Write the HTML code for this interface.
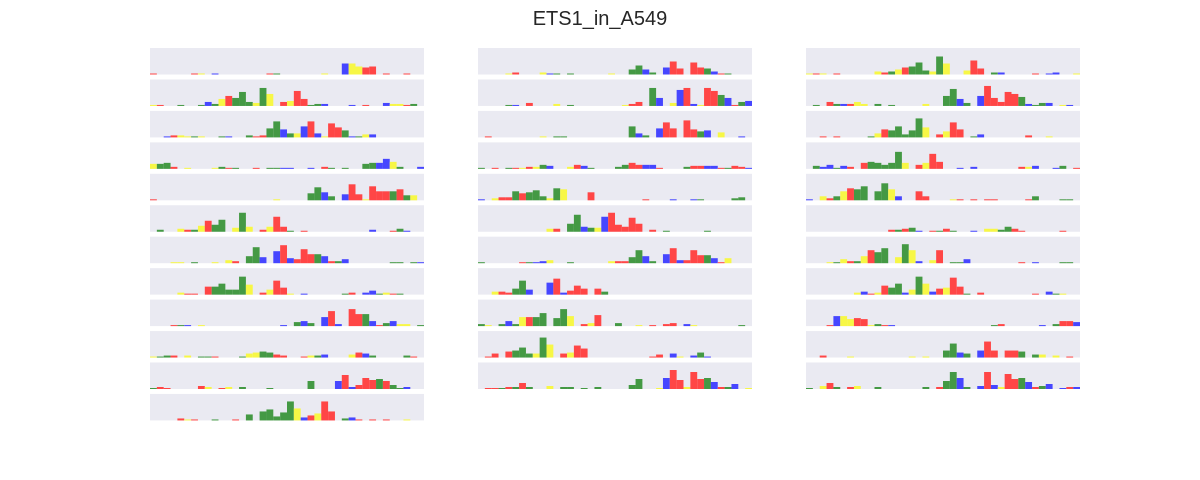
<!DOCTYPE html>
<html><head><meta charset="utf-8"><style>
html,body{margin:0;padding:0;background:#fff;}
svg{display:block;}
</style></head><body>
<svg id="chart" width="1200" height="480">
<text x="600" y="25" text-anchor="middle" font-family="Liberation Sans, sans-serif" font-size="20" fill="#262626">ETS1_in_A549</text>
</svg>
<script>
const col1 = [
"0T1 6T1 7G1 9C1 17T1 18A1 25G1 28C11 29G11 30G8 31T7 32T8 34T1 37T1",
"0G1 1T1 4A1 7A1 8C4 9A2 10G7 11T10 12A8 13A14 14A4 15G3 16A18 17G12 19T4 20G5 21T15 22T7 23A1 24A2 25C2 29C1 31T1 34C3 35G2 36G2 37T1 38A2",
"2C1 3T2 4G2 5G1 6A1 7G1 10A1 11C1 14A2 15T1 16T2 17A9 18A16 19C8 20A4 21G4 22C11 23T16 24C4 25G1 26T14 27T10 28A7 29C1 30A1 31G3 32C3",
"0G5 1A5 2A6 3T2 5G1 9G1 10A2 11T1 12A1 15T1 17A1 18A1 19C1 20C1 23C1 25T2 26A1 28A1 31A5 32A6 33C6 34C10 35G7 36A2 39C2",
"0T1 18G1 23A7 24A13 25C8 26A4 28C6 29T16 30T6 31G1 32T14 33T9 34T9 35A9 36T11 37A5 38G5",
"1A2 4G3 5T2 6A2 7G6 8T11 9A7 10A12 12G4 13A19 14G5 16T2 17G5 18T15 19T5 20A1 22T1 32C2 35T1 36A3 37C1",
"3G1 4G1 6A1 9G1 11G3 12T2 14A7 15A16 16C6 18C12 19T18 20C5 21T4 22T14 23T9 24A9 25C7 26T2 27A2 28C4 35A1 36A1 38A1 39C1",
"4G2 5T1 6T1 8T8 9A8 10A11 11A5 12A5 13A18 14G10 16T2 17G5 18T14 19T7 20G1 22C1 28A1 29T2 31C2 32C4 33A1 34G2 35T1 36A1",
"3T1 4A1 5C1 7G1 19C1 21A4 22C5 23A3 25C9 26T15 27C2 29T17 30T12 31A12 32C5 33T1 34A3 35C5 36G2 37G2 39A1",
"0G1 1A1 2A2 3T2 5G2 7A1 8A1 9T1 13A1 14G4 15G5 16A6 17A5 18T3 19T2 22T1 23G2 24A2 25C3 29G3 30T5 31C4 32A2 37A2 38T1",
"0A1 1T2 2T1 7T3 8G2 10T1 11G2 13A2 17A1 23A8 27C8 28T14 29C2 30T4 31T11 32T9 33A10 34T8 35A4 36A1 37C2",
"4T2 5G1 6T1 9A1 12T1 14A6 16A9 17A11 18A4 19A8 20A19 21G12 22C3 23T5 24G7 25T19 26T9 28A2 29C3 30T1 32T1 34T1 37G1"
];
const col2 = [
"4G1 5T2 9G2 10C1 11A1 13A1 19G1 22A5 23A9 24C5 25A2 27C7 28T13 29T6 31T12 32T7 33A6 34C3 35T1 36A1",
"4A1 5C1 7T3 11G2 13A1 21G1 22T2 23T4 25A18 26C8 28G3 29C16 30T18 31C2 32G1 33T18 34T15 35A11 36C8 37T1 38A4 39C5",
"1T1 9G1 11A1 12A1 22A11 23C4 24A2 26C9 27T15 28T9 30T17 31T8 32A6 33C7 35G5 38C1",
"0A1 2T1 4A1 5T1 6G1 7T2 8G2 9A4 10C3 13G2 14T4 15C3 16A1 20A2 21A4 22T6 23T4 24C4 25C4 26T1 30A2 31T3 32T3 33C3 34C3 35T1 36A1 37T3 38T2 39C1",
"0C1 2G2 3T3 4T3 5A9 6T7 7A8 8A10 9A4 10G2 11A12 12G11 16T8 24T1 28C1 31C1 32A1 37A2 38A3",
"10G3 11T3 13A8 14A17 15C5 16A4 17G4 18C15 19T19 20T7 21T5 22T14 23T8 25T2 27A1 33A1",
"0A1 6T1 7A1 8C1 9C2 10G3 13A1 19G2 20T2 21T2 22A6 23A13 24C7 25A2 27C9 28T15 29C3 30T3 31T13 32T8 33A8 34C5 35T1 36G5",
"2G3 3T3 4T2 5A6 6A14 7C5 10C12 11T16 12C2 13T4 14T9 15T6 17T6 18A3",
"0A2 1G1 3A2 4C5 5A2 6G9 7T9 8A9 9A13 11A8 12A17 13G10 15T2 16G3 17T11 20A3 23G1 25T1 27T2 28T3 30C2 31G1 38A1",
"1T1 2T4 4T6 5A7 6A10 7A4 8G4 9A20 10G13 12T4 13G5 14T12 15T9 25T1 26T3 28C4 29G1 31C2 32A5 33C1",
"1T1 2T1 3A1 4T2 5A2 6T6 7A2 10G3 12A2 13A2 15A1 17A2 22A4 23A10 26G1 27C11 28T19 29T9 30G2 31T17 32T10 33A11 34C7 35T2 36A2 37C5 39G1"
];
const col3 = [
"0G1 1T1 2G1 4T1 10G3 11T2 12A3 13G5 14T7 15A8 16A12 17A4 18G3 19A18 20G11 23G4 24T14 25T6 27A2 28C2 33T1 35C1 36C2 39G1",
"1A1 3T4 4A2 5C2 6T2 7G4 8G2 10A2 12A1 17G2 20A10 21A17 22C7 23A3 25C10 26T20 27T8 28T4 29T14 30T12 31A9 32C2 33A1 34A3 35C3 37G1 38C1",
"2T1 4T1 9A1 10G4 11T8 12A7 13A11 14A3 15A7 16A19 17G10 19T3 20G6 21T15 22T8 24A1 25C3 32T2 35G1",
"1A3 2C2 3C4 4A1 5C3 6T2 8T6 9A7 10A6 11A4 12A6 13A17 14G6 16T4 17G6 18T15 19T7 22C1 24C2 31T2 32G2 33C3 36C1 37A3 39T1",
"0C1 2G4 3T2 4A4 5G9 6T12 7A11 8A14 10A9 11A17 12G11 13C4 16T9 17T4 21G1 22T1 24T1 26T1 27T1 32T1 33A4 37A1 38A1",
"12T2 13A2 14T3 15A4 16C1 18T1 19A1 20T3 21A1 24C1 26G3 27G3 28A2 29A5 30T3 31T1 37T1",
"3G1 4A1 5G4 6T2 7A2 8G7 9T13 10A11 11A15 13G6 14A19 15G13 16C2 18G3 19T13 21A1 22A1 23C4 31T1 33C1 37A1 38A1",
"7G2 8C3 9T1 10G2 11T9 12A7 13A11 14C2 15G5 16A18 17G11 18C3 19T6 20G7 21T17 22T8 23A1 25T2 33T1 35C3 36A1 37G1",
"3T1 4C10 5G10 6G7 7T8 8T7 9G1 10A2 11T1 12C1 27A1 28T2 34C1 36A2 37T5 38T5 39C4",
"2T2 6G1 15G1 17G1 20A7 21A14 22C5 23A4 25C7 26T16 27T7 29T7 30T7 31A6 33A3 34G3 36G2 38T1",
"0A1 2G3 3T6 4A2 6T2 7G3 10A2 17A2 19T2 20A8 21A17 22C11 23A2 25C3 26T17 27C4 28G2 29T15 30T10 31A11 32C7 33T2 34A3 35C5 37C1 38T2 39C2"
];
const colX = [150, 478, 806];
const nPos = 40;
const panelW = 274, panelH = 26.5, rowTop = 48, rowPitch = 31.45, yMax = 26.5;
const colors = {A:'#449944', C:'#4646ff', G:'#f7f746', T:'#ff4646'};
const NS = 'http://www.w3.org/2000/svg';
const svg = document.getElementById('chart');
const xScale = (c, p) => colX[c] + p * panelW / nPos;
const yScale = (r, v) => rowTop + r * rowPitch + panelH - v * panelH / yMax;
[col1, col2, col3].forEach((col, c) => {
  col.forEach((str, r) => {
    const g = document.createElementNS(NS, 'g');
    
    
    const bg = document.createElementNS(NS, 'rect');
    bg.setAttribute('x', colX[c]);
    bg.setAttribute('y', rowTop + r * rowPitch);
    bg.setAttribute('width', panelW);
    bg.setAttribute('height', panelH);
    bg.setAttribute('fill', '#eaeaf2');
    
    
    g.appendChild(bg);
    const re = /(\d+)([ACGT])(\d+)/g;
    let m;
    while ((m = re.exec(str)) !== null) {
      const p = +m[1], b = m[2], v = +m[3];
      const y0 = yScale(r, 0), y1 = yScale(r, v);
      const rect = document.createElementNS(NS, 'rect');
      rect.setAttribute('x', xScale(c, p));
      rect.setAttribute('y', y1);
      rect.setAttribute('width', panelW / nPos);
      rect.setAttribute('height', y0 - y1);
      rect.setAttribute('fill', colors[b]);
      
      
      g.appendChild(rect);
    }
    svg.appendChild(g);
  });
});
</script>
</body></html>
